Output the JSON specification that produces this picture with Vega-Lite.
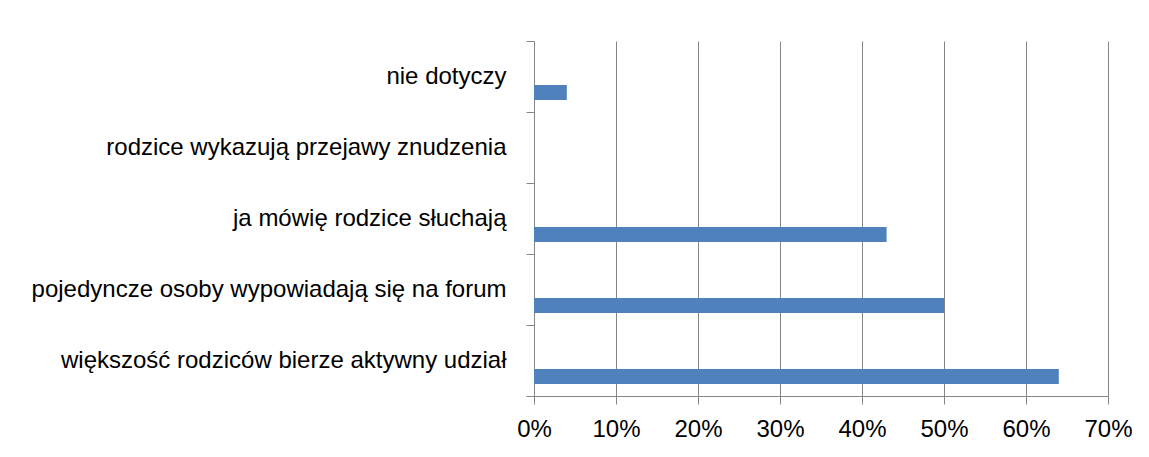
{
  "$schema": "https://vega.github.io/schema/vega-lite/v6.json",
  "width": 574,
  "height": 355,
  "autosize": "none",
  "padding": {"left": 534, "top": 41, "right": 41, "bottom": 61},
  "background": "white",
  "config": {"view": {"stroke": null}, "font": "Liberation Sans"},
  "data": {
    "values": [
      {"kategoria": "nie dotyczy", "udzial": 0.04},
      {"kategoria": "rodzice wykazują przejawy znudzenia", "udzial": 0.0},
      {"kategoria": "ja mówię rodzice słuchają", "udzial": 0.43},
      {"kategoria": "pojedyncze osoby wypowiadają się na forum", "udzial": 0.50},
      {"kategoria": "większość rodziców bierze aktywny udział", "udzial": 0.64}
    ]
  },
  "mark": {"type": "bar", "color": "#4F81BD", "height": {"band": 0.21}, "yOffset": 16},
  "encoding": {
    "y": {
      "field": "kategoria",
      "type": "nominal",
      "sort": null,
      "title": null,
      "scale": {"paddingInner": 0, "paddingOuter": 0},
      "axis": {
        "tickBand": "extent",
        "domainColor": "#868686",
        "tickColor": "#868686",
        "tickSize": 8,
        "labelPadding": 20,
        "labelFontSize": 24,
        "labelColor": "#000000",
        "labelLimit": 600,
        "grid": false
      }
    },
    "x": {
      "field": "udzial",
      "type": "quantitative",
      "title": null,
      "scale": {"domain": [0, 0.7], "nice": false},
      "axis": {
        "values": [0, 0.1, 0.2, 0.3, 0.4, 0.5, 0.6, 0.7],
        "format": ".0%",
        "grid": true,
        "gridColor": "#868686",
        "gridOpacity": 1,
        "domainColor": "#868686",
        "tickColor": "#868686",
        "tickSize": 8,
        "labelFontSize": 24,
        "labelColor": "#000000",
        "labelBaseline": "alphabetic",
        "labelPadding": 32,
        "labelFlush": false
      }
    }
  }
}
